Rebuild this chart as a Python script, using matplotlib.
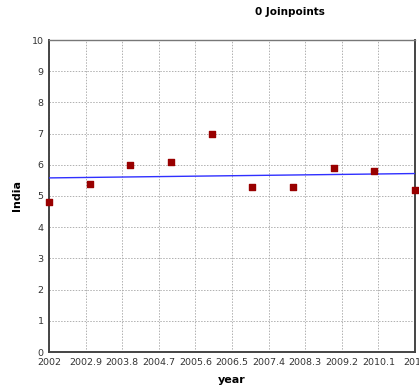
import numpy as np
import matplotlib.pyplot as plt

# observed rates for India by year
years = [2002, 2003, 2004, 2005, 2006, 2007, 2008, 2009, 2010, 2011]
rates = [4.8, 5.4, 6.0, 6.1, 7.0, 5.3, 5.3, 5.9, 5.8, 5.2]

# fitted trend (0 joinpoints) at first and last year
trend_years = [2002, 2011]
trend_vals = [5.58, 5.72]

xticks = [2002 + 0.9 * i for i in range(11)]
xlabels = ["2002", "2002.9", "2003.8", "2004.7", "2005.6", "2006.5",
           "2007.4", "2008.3", "2009.2", "2010.1", "2011"]

fig = plt.figure(figsize=(4.19, 3.91), dpi=100)
ax = fig.add_axes([49 / 419, 1 - 352 / 391, 366 / 419, 312 / 391])

ax.plot(trend_years, trend_vals, color="#3030ff", lw=1.0, zorder=3)
ax.scatter(years, rates, marker="s", s=14, color="#990000", zorder=4, clip_on=False)

ax.set_xlim(2002, 2011)
ax.set_ylim(0, 10)
ax.set_xticks(xticks)
ax.set_xticklabels(xlabels)
ax.set_yticks(range(11))
ax.tick_params(labelsize=6.8, length=0, pad=4, colors="#333333")
ax.grid(True, color="#b0b0b0", linestyle=(0, (1.5, 1.5)), lw=0.7)

for side in ["left", "bottom", "right", "top"]:
    ax.spines[side].set_color("#444444")
    ax.spines[side].set_linewidth(1.4)
ax.spines["top"].set_color("#777777")
ax.spines["top"].set_linewidth(1.0)

ax.set_xlabel("year", fontsize=8, fontweight="bold", labelpad=6)
ax.set_ylabel("India", fontsize=8, fontweight="bold", labelpad=7)
fig.text(290 / 419, 1 - 12 / 391, "0 Joinpoints", fontsize=7.5,
         fontweight="bold", ha="center", va="center")

fig.savefig("out.png", dpi=100)
